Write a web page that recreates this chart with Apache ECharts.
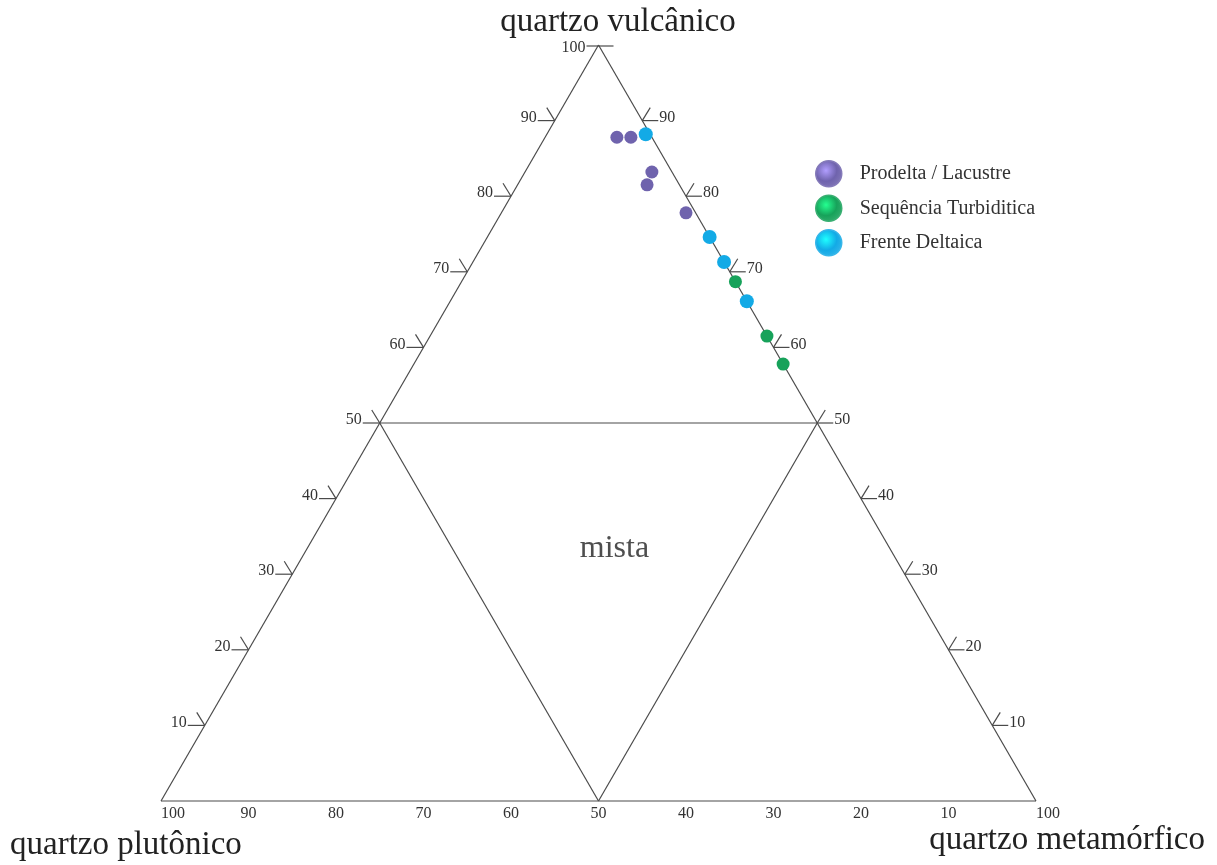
<!DOCTYPE html>
<html>
<head>
<meta charset="utf-8">
<title>Diagrama ternário - quartzo</title>
<script src="https://cdn.jsdelivr.net/npm/echarts@6/dist/echarts.min.js"></script>
<style>
  html, body { margin: 0; padding: 0; background: #fff; }
  #main { width: 1217px; height: 865px; }
</style>
</head>
<body>
<div id="main"></div>
<script>
// composições em % (vulcânico, metamórfico); plutônico = 100 - V - M
const prodeltaV = [87.8, 87.8, 83.2, 81.5, 77.8];
const prodeltaM = [8.2, 9.8, 14.5, 14.8, 21.1];
const turbiditicaV = [68.7, 61.5, 57.8];
const turbiditicaM = [31.3, 38.5, 42.2];
const frenteV = [88.2, 74.6, 71.3, 66.1];
const frenteM = [11.3, 25.4, 28.7, 33.9];

const seriesNames = ['Prodelta / Lacustre', 'Sequência Turbiditica', 'Frente Deltaica'];
const seriesColors = ['#6f63ad', '#17a25a', '#13aae6'];
const edgeTicks = [10, 20, 30, 40, 50, 60, 70, 80, 90];
const bottomLabels = ['100', '90', '80', '70', '60', '50', '40', '30', '20', '10', '100'];

const serif = '"Liberation Serif", "DejaVu Serif", serif';
const ink = '#333';

// ternário -> cartesiano (x de 0 a 100, y = % vulcânico)
function toXY(v, m) {
  return [m + v / 2, v];
}

// linhas do diagrama: [V1, M1, V2, M2]
const frameSegs = [
  [100, 0, 0, 0], [0, 0, 0, 100], [0, 100, 100, 0],
  [50, 0, 50, 50], [50, 0, 0, 50], [0, 50, 50, 50]
];

function points(vs, ms) {
  return vs.map((v, i) => toXY(v, ms[i]));
}

const lineStyle = { stroke: '#4a4a4a', lineWidth: 1.2 };

function tickText(txt, x, y, align) {
  return {
    type: 'text',
    style: { text: txt, x: x, y: y, align: align, verticalAlign: 'middle',
      fontFamily: serif, fontSize: 16, fill: ink }
  };
}

function leftTick(params, api) {
  const v = api.value(0);
  const p = api.coord(toXY(v, 0));
  if (v === 100) {
    return { type: 'group', children: [
      { type: 'line', shape: { x1: p[0] - 12, y1: p[1] + 1, x2: p[0] + 15, y2: p[1] + 1 }, style: lineStyle },
      tickText('100', p[0] - 13, p[1] + 3, 'right')
    ]};
  }
  return { type: 'group', children: [
    { type: 'line', shape: { x1: p[0] - 17, y1: p[1], x2: p[0], y2: p[1] }, style: lineStyle },
    { type: 'line', shape: { x1: p[0], y1: p[1], x2: p[0] - 8, y2: p[1] - 13 }, style: lineStyle },
    tickText(String(v), p[0] - 18, p[1] - 3, 'right')
  ]};
}

function rightTick(params, api) {
  const v = api.value(0);
  const p = api.coord(toXY(v, 100 - v));
  return { type: 'group', children: [
    { type: 'line', shape: { x1: p[0], y1: p[1], x2: p[0] + 16, y2: p[1] }, style: lineStyle },
    { type: 'line', shape: { x1: p[0], y1: p[1], x2: p[0] + 8, y2: p[1] - 13 }, style: lineStyle },
    tickText(String(v), p[0] + 17, p[1] - 3, 'left')
  ]};
}

function ballGradient(c) {
  return new echarts.graphic.RadialGradient(0.4, 0.38, 0.65, [
    { offset: 0, color: echarts.color.lift(c, -0.6) },
    { offset: 0.6, color: c },
    { offset: 1, color: echarts.color.lift(c, 0.12) }
  ]);
}

const chart = echarts.init(document.getElementById('main'));
chart.setOption({
  animation: false,
  backgroundColor: '#fff',
  grid: { left: 161, right: 181, top: 45, bottom: 64 },
  xAxis: {
    type: 'value', min: 0, max: 100, interval: 10,
    axisLine: { show: false }, axisTick: { show: false }, splitLine: { show: false },
    axisLabel: {
      margin: 5,
      fontFamily: serif, fontSize: 16, color: ink,
      showMinLabel: true, showMaxLabel: true,
      alignMinLabel: 'left', alignMaxLabel: 'left',
      formatter: (val) => bottomLabels[Math.round(val / 10)]
    }
  },
  yAxis: { type: 'value', min: 0, max: 100, show: false },
  legend: {
    orient: 'vertical', left: 810, top: 155,
    itemWidth: 26, itemHeight: 26, itemGap: 7, itemTextGap: 30,
    icon: 'circle',
    textStyle: { fontFamily: serif, fontSize: 20, color: '#333', padding: [0, 0, 0, 13] },
    data: seriesNames.map((n, i) => ({
      name: n,
      itemStyle: { color: ballGradient(seriesColors[i]), opacity: 1,
        borderColor: echarts.color.lift(seriesColors[i], 0.15), borderWidth: 1.5 }
    }))
  },
  graphic: [
    { type: 'text', x: 618, y: 22, style: { text: 'quartzo vulcânico', align: 'center', verticalAlign: 'middle', fontFamily: serif, fontSize: 33, fill: '#222' } },
    { type: 'text', x: 10, y: 845, style: { text: 'quartzo plutônico', align: 'left', verticalAlign: 'middle', fontFamily: serif, fontSize: 33, fill: '#222' } },
    { type: 'text', x: 1205, y: 840, style: { text: 'quartzo metamórfico', align: 'right', verticalAlign: 'middle', fontFamily: serif, fontSize: 33, fill: '#222' } }
  ],
  series: [
    {
      type: 'custom', name: 'frame', silent: true,
      data: frameSegs.map(s => toXY(s[0], s[1]).concat(toXY(s[2], s[3]))),
      renderItem: (params, api) => {
        const a = api.coord([api.value(0), api.value(1)]);
        const b = api.coord([api.value(2), api.value(3)]);
        return { type: 'line', shape: { x1: a[0], y1: a[1], x2: b[0], y2: b[1] }, style: lineStyle };
      }
    },
    { type: 'custom', name: 'leftTicks', silent: true, data: edgeTicks.concat([100]).map(v => [v]), renderItem: leftTick },
    { type: 'custom', name: 'rightTicks', silent: true, data: edgeTicks.map(v => [v]), renderItem: rightTick },
    {
      type: 'scatter', name: 'mista', silent: true, symbolSize: 0,
      data: [toXY(100 / 3, 100 / 3)],
      label: { show: true, position: 'inside', offset: [16, 0], formatter: 'mista', fontFamily: serif, fontSize: 32, color: '#222' }
    },
    { type: 'scatter', name: seriesNames[0], symbolSize: 13, itemStyle: { color: seriesColors[0], opacity: 1 }, data: points(prodeltaV, prodeltaM) },
    { type: 'scatter', name: seriesNames[1], symbolSize: 13, itemStyle: { color: seriesColors[1], opacity: 1 }, data: points(turbiditicaV, turbiditicaM) },
    { type: 'scatter', name: seriesNames[2], symbolSize: 14, itemStyle: { color: seriesColors[2], opacity: 1 }, data: points(frenteV, frenteM) }
  ]
});
window.addEventListener('resize', () => chart.resize());
</script>
</body>
</html>
